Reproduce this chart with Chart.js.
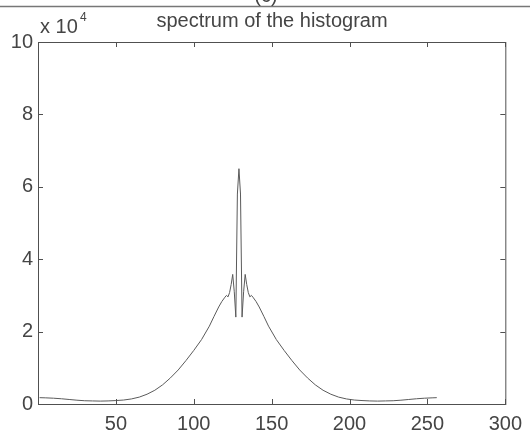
<!DOCTYPE html>
<html>
<head>
<meta charset="utf-8">
<script src="https://cdn.jsdelivr.net/npm/chart.js@4.4.1/dist/chart.umd.min.js"></script>
<style>
  html, body { margin: 0; padding: 0; background: #fff; }
  #wrap { width: 530px; height: 438px; position: relative; }
</style>
</head>
<body>
<div id="wrap"><canvas id="chart"></canvas></div>
<script>
// sample positions (bin index) and spectrum magnitude
const binIndex = [
  1, 5, 10, 15, 20, 25, 30, 35, 40, 45, 50, 55, 60, 65, 70, 75, 80, 85, 90, 95,
  100, 105, 110, 113, 116, 118, 120, 121, 122, 123, 124, 125, 126, 127, 128, 129,
  130, 131, 132, 133, 134, 135, 136, 137, 138, 140, 142, 145, 148, 153, 158, 163,
  168, 173, 178, 183, 188, 193, 198, 203, 208, 213, 218, 223, 228, 233, 238, 243,
  248, 253, 256
];
const magnitude = [
  1750, 1700, 1600, 1450, 1250, 1050, 900, 850, 800, 850, 950, 1100, 1400, 1900, 2700, 3800, 5300, 7200, 9400, 12000,
  14800, 17800, 21500, 24200, 26800, 28300, 29500, 30000, 29600, 30800, 33000, 35800, 31000, 24000, 58000, 65000,
  58000, 24000, 31000, 35800, 33000, 30800, 29600, 30000, 29500, 28300, 26800, 24200, 21500, 17800, 14800, 12000,
  9400, 7200, 5300, 3800, 2700, 1900, 1400, 1100, 950, 850, 800, 850, 900, 1050, 1250, 1450,
  1600, 1700, 1750
];
const xTicks = [0, 50, 100, 150, 200, 250, 300];
const yTicks = [0, 20000, 40000, 60000, 80000, 100000];

const titleText = 'spectrum of the histogram';
const inkColor = '#454545';
const fontFamily = '"Liberation Sans", Arial, Helvetica, sans-serif';

const points = binIndex.map((x, i) => ({ x: x, y: magnitude[i] }));

// matlab style frame: box round the plot, ticks pointing inwards, title and exponent
const matlabFrame = {
  id: 'matlabFrame',
  afterDraw(chart) {
    const { ctx, chartArea: a, scales } = chart;
    ctx.save();
    ctx.strokeStyle = '#505050';
    ctx.lineWidth = 1;
    ctx.strokeRect(a.left + 0.5, a.top + 0.5, a.right - a.left, a.bottom - a.top);

    const tick = 5;
    ctx.beginPath();
    scales.x.ticks.forEach((t, i) => {
      const px = Math.round(scales.x.getPixelForTick(i)) + 0.5;
      ctx.moveTo(px, a.bottom); ctx.lineTo(px, a.bottom - tick);
      ctx.moveTo(px, a.top); ctx.lineTo(px, a.top + tick);
    });
    scales.y.ticks.forEach((t, i) => {
      const py = Math.round(scales.y.getPixelForTick(i)) + 0.5;
      ctx.moveTo(a.left, py); ctx.lineTo(a.left + tick, py);
      ctx.moveTo(a.right, py); ctx.lineTo(a.right - tick, py);
    });
    ctx.stroke();

    ctx.fillStyle = inkColor;
    ctx.font = '20px ' + fontFamily;
    ctx.textAlign = 'center';
    ctx.textBaseline = 'alphabetic';
    ctx.fillText(titleText, 272, 27);

    ctx.textAlign = 'left';
    ctx.fillText('x 10', 40, 33);
    ctx.font = '12px ' + fontFamily;
    ctx.fillText('4', 80, 21);

    // edge of the previous panel on the scanned page
    ctx.strokeStyle = '#777';
    ctx.lineWidth = 1.5;
    ctx.beginPath();
    ctx.moveTo(0, 6.5); ctx.lineTo(530, 6.5);
    ctx.stroke();
    ctx.font = '20px ' + fontFamily;
    ctx.textAlign = 'center';
    ctx.fillText('(c)', 266, 2);
    ctx.restore();
  }
};

const ctx = document.getElementById('chart').getContext('2d');
new Chart(ctx, {
  type: 'line',
  data: {
    datasets: [{
      data: points,
      borderColor: '#5a5a5a',
      borderWidth: 1,
      pointRadius: 0,
      tension: 0,
      fill: false
    }]
  },
  options: {
    responsive: true,
    maintainAspectRatio: false,
    animation: false,
    devicePixelRatio: 1,
    layout: { padding: { top: 42, right: 24, left: 0, bottom: 0 } },
    plugins: {
      legend: { display: false },
      tooltip: { enabled: false },
      title: { display: false }
    },
    scales: {
      x: {
        type: 'linear',
        min: 0,
        max: 300,
        afterBuildTicks: (scale) => { scale.ticks = xTicks.map(v => ({ value: v })); },
        afterFit: (scale) => { scale.height = 34; },
        grid: { display: false, drawTicks: false },
        border: { display: false },
        ticks: {
          padding: 8,
          color: inkColor,
          font: { family: fontFamily, size: 20 },
          maxRotation: 0,
          callback: (v) => v === 0 ? '' : v
        }
      },
      y: {
        type: 'linear',
        min: 0,
        max: 100000,
        afterBuildTicks: (scale) => { scale.ticks = yTicks.map(v => ({ value: v })); },
        afterFit: (scale) => { scale.width = 38; },
        grid: { display: false, drawTicks: false },
        border: { display: false },
        ticks: {
          padding: 5,
          color: inkColor,
          font: { family: fontFamily, size: 20 },
          callback: (v) => v / 10000
        }
      }
    }
  },
  plugins: [matlabFrame]
});
</script>
</body>
</html>
